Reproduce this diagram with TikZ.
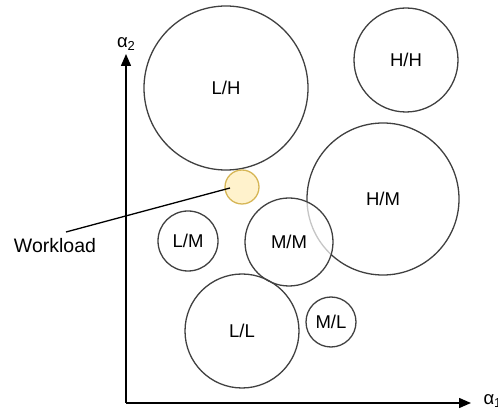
\documentclass[tikz,border=0pt]{standalone}
\usepackage{fontspec}
\setmainfont{Liberation Sans}
\usetikzlibrary{arrows.meta}
\definecolor{ring}{HTML}{404040}
\definecolor{wlfill}{HTML}{FFF2CC}
\definecolor{wldraw}{HTML}{D6B656}
\begin{document}
\begin{tikzpicture}[x=1pt,y=-1pt,
  region/.style={circle,draw=ring,line width=1.3pt,inner sep=0pt,font=\fontsize{18.5}{21}\selectfont},
  axis/.style={line width=1.5pt,-{Triangle[length=12pt,width=10pt]}},
  lbl/.style={font=\fontsize{18.5}{21}\selectfont}]
\useasboundingbox (0,0) rectangle (498,411);
% origin and axes
\coordinate (o) at (126,403);
\coordinate (ytip) at (126,54);
\coordinate (xtip) at (471,403);
\draw[axis] (o) -- (ytip);
\draw[axis] (o) -- (xtip);
\node[lbl,anchor=south] (a2) at (126,54) {α\raisebox{-0.35ex}{\fontsize{13}{15}\selectfont 2}};
\node[lbl,anchor=west] (a1) at (480,401) {α\raisebox{-0.35ex}{\fontsize{13}{15}\selectfont 1}};
% regions
\node[region,minimum size=164pt] (lh) at (226,88) {L/H};
\node[region,minimum size=104pt] (hh) at (406,60) {H/H};
\node[region,minimum size=152pt] (hm) at (383,199) {H/M};
\node[region,minimum size=60pt] (lm) at (188,241) {L/M};
\node[region,minimum size=88pt,fill=white,fill opacity=0.7,text opacity=1] (mm) at (289,242) {M/M};
\node[region,minimum size=114pt] (ll) at (242,331) {L/L};
\node[region,minimum size=50pt] (ml) at (331,322) {M/L};
% workload
\node[circle,draw=wldraw,fill=wlfill,line width=1.3pt,minimum size=34pt,inner sep=0pt] (wl) at (242,187) {};
\node[font=\fontsize{19.5}{22}\selectfont] (wtext) at (55,246) {Workload};
\coordinate (wstart) at (66,232);
\coordinate (wend) at (230,188);
\draw[line width=1.3pt] (wstart) -- (wend);
\end{tikzpicture}
\end{document}
